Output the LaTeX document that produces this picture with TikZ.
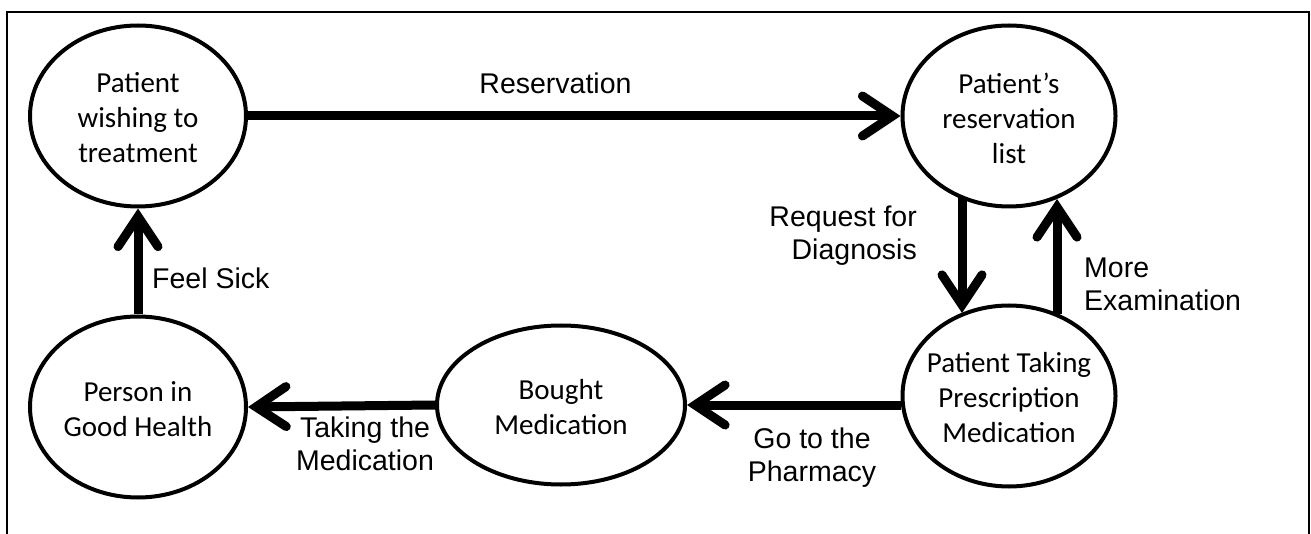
\documentclass[tikz,border=0pt]{standalone}
\usepackage{fontspec}
\setmainfont{Carlito}
\newfontfamily\lblfont{Liberation Sans}
\usetikzlibrary{arrows.meta,shapes.geometric,calc}
\begin{document}
\begin{tikzpicture}[x=1pt,y=-1pt,
  state/.style={ellipse, draw, line width=4pt, inner sep=0pt},
  txt/.style={align=center, inner sep=0pt, font=\fontsize{29}{35}\selectfont},
  lbl/.style={inner sep=0pt, font=\lblfont\fontsize{28.5}{33}\selectfont},
  flow/.style={line width=9pt, -{Straight Barb[length=30pt,width=40pt,line cap=round]}},
  frame/.style={line width=2pt}]
\useasboundingbox (0,0) rectangle (1311,534);
\draw[frame] (7,534) -- (7,12) -- (1309,12) -- (1309,534);

\node[state, minimum width=216pt, minimum height=181pt] (e1) at (138,116) {};
\node[state, minimum width=213pt, minimum height=181pt] (e2) at (1009,116) {};
\node[state, minimum width=213pt, minimum height=181pt] (e3) at (1009,396) {};
\node[state, minimum width=248pt, minimum height=159pt] (e4) at (561,405) {};
\node[state, minimum width=216pt, minimum height=181pt] (e5) at (138,407) {};

\node[txt] (t1) at ([yshift=-2pt]e1.center) {Patient\\wishing to\\treatment};
\node[txt] (t2) at ([yshift=-2pt]e2.center) {Patient’s\\reservation\\list};
\node[txt] (t3) at ([yshift=-2pt]e3.center) {Patient Taking\\Prescription\\Medication};
\node[txt] (t4) at ([yshift=-2pt]e4.center) {Bought\\Medication};
\node[txt] (t5) at ([yshift=-2pt]e5.center) {Person in\\Good Health};

\draw[flow] (e1.east) -- (e2.west);
\draw[flow] ($(e2.center)+(-47,82)$) -- ($(e3.center)+(-47,-83)$);
\draw[flow] ($(e3.center)+(48,-82)$) -- ($(e2.center)+(48,83)$);
\draw[flow] (e4.east -| e3.west) -- (e4.east);
\draw[flow] (e4.west) -- (e5.east);
\draw[flow] (e5.north) -- (e1.south);

\node[lbl, anchor=base] (lres) at (555.5,94) {Reservation};
\node[lbl, anchor=base east, align=right] (lreq) at (917,260) {Request for\\Diagnosis};
\node[lbl, anchor=base west, align=left] (lmore) at (1084,311) {More\\Examination};
\node[lbl, anchor=base west] (lsick) at (152,289) {Feel Sick};
\node[lbl, anchor=base, align=center] (ltake) at (365,470) {Taking the\\Medication};
\node[lbl, anchor=base, align=center] (lgo) at (812,481) {Go to the\\Pharmacy};
\end{tikzpicture}
\end{document}
